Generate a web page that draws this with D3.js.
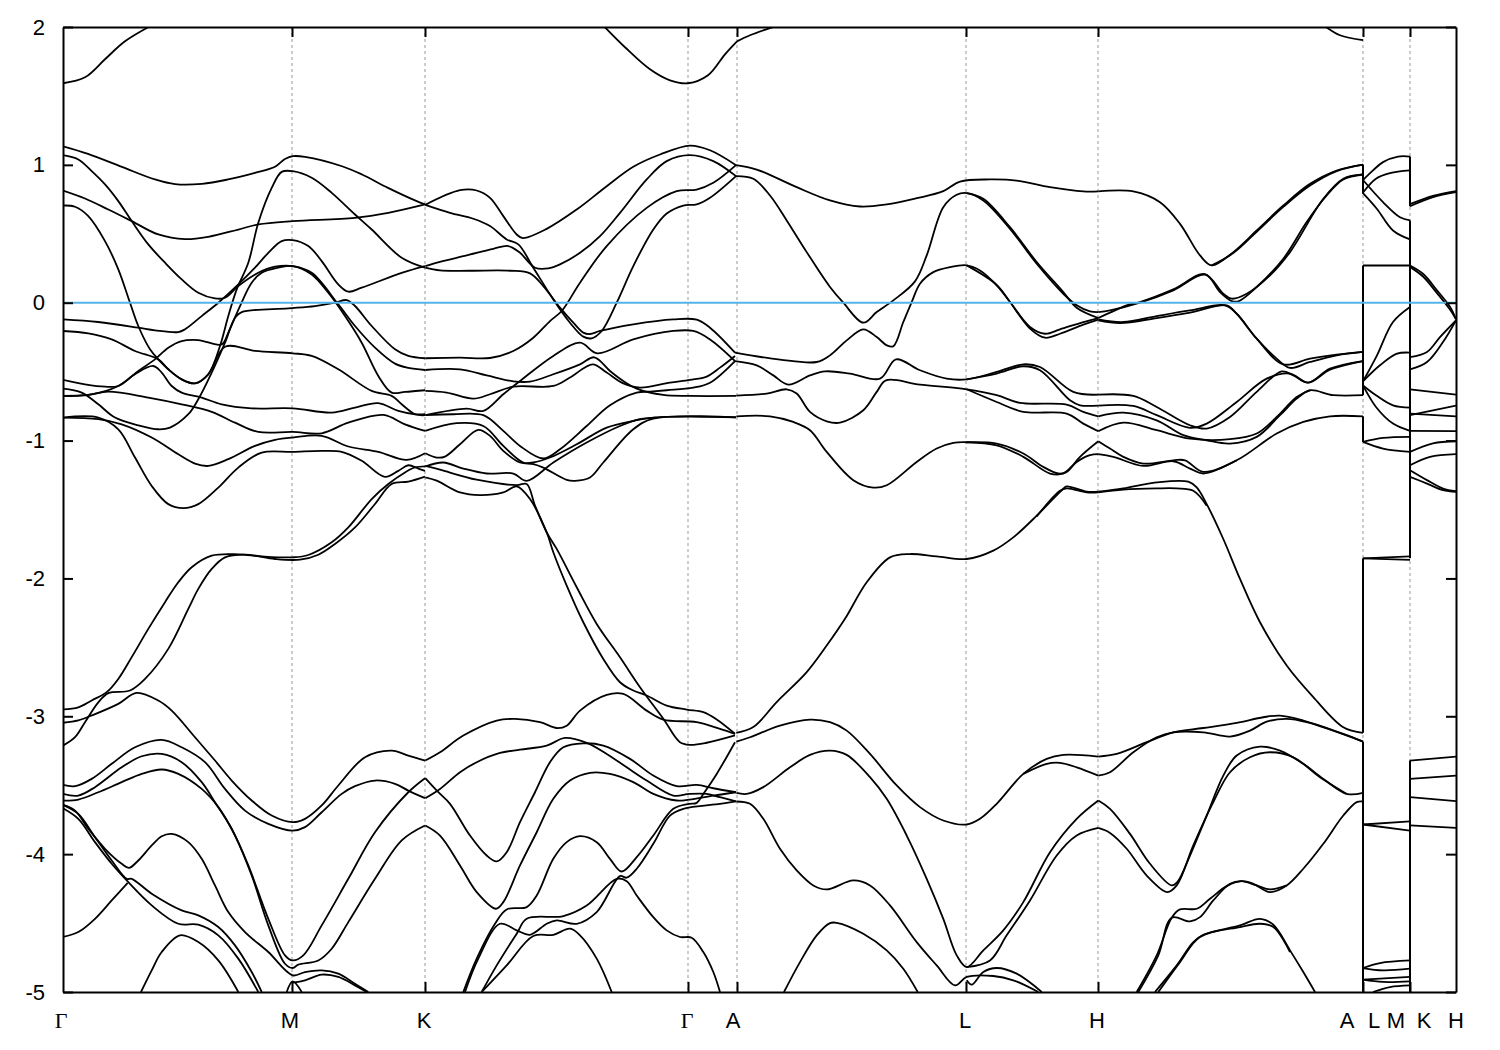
<!DOCTYPE html>
<html>
<head>
<meta charset="utf-8">
<script src="https://d3js.org/d3.v7.min.js"></script>
<style>
html, body { margin: 0; padding: 0; background: #fff; }
svg text { font-family: "Liberation Sans", Arial, sans-serif; font-size: 22px; fill: #000; }
</style>
</head>
<body>
<div id="chart"></div>
<script>
// high symmetry points on the path, k in path units
const gridK = [2.29, 3.62, 6.25, 6.74, 9.03, 10.35, 13.0, 13.47];
const tickE = [-5, -4, -3, -2, -1, 0, 1, 2];
const labelText = ["Γ", "M", "K", "Γ", "A", "L", "H", "A", "L", "M", "K", "H"];
const labelK = [-0.02, 2.27, 3.61, 6.24, 6.70, 9.02, 10.34, 12.84, 13.11, 13.33, 13.61, 13.93];

// every band piece is [k values, energies in eV]
const bandsGammaK = [
  [[0,.25,.59,.92,1.12,1.39,1.65,1.92,2.12,2.22,2.30,2.42,2.79,2.99,3.25,3.52,3.62],
   [1.135,1.08,.985,.894,.86,.862,.894,.942,.986,1.043,1.063,1.058,.99,.93,.833,.742,.713]],
  [[0,.153,.287,.42,.553,.687,.853,1.02,1.187,1.353,1.52,1.62,1.753,1.953,2.12,2.297,2.487,2.753,2.92,3.12,3.32,3.453,3.62],
   [1.07,1.039,.954,.858,.737,.592,.423,.29,.169,.072,.031,.036,.121,.217,.261,.266,.217,-.012,-.169,-.326,-.442,-.473,-.488]],
  [[0,.22,.453,.687,.953,1.22,1.453,1.753,1.953,2.297,2.92,3.253,3.62],
   [.814,.756,.676,.592,.495,.461,.478,.531,.568,.592,.616,.652,.713]],
  [[0,.12,.253,.42,.553,.67,.753,.87,.953,1.053,1.187,1.32,1.453,1.57,1.653,1.737,1.853,1.953,2.087,2.187,2.297,2.487,2.687,2.92,3.087,3.387,3.62],
   [.705,.696,.628,.447,.242,0,-.169,-.338,-.411,-.483,-.556,-.585,-.519,-.314,-.097,.097,.29,.58,.833,.949,.954,.906,.797,.64,.531,.326,.254]],
  [[0,.253,.487,.72,.953,1.053,1.187,1.32,1.453,1.62,1.92,2.297,2.487,2.753,3.087,3.287,3.387,3.52,3.62],
   [-.205,-.222,-.266,-.35,-.411,-.483,-.556,-.585,-.519,-.319,-.35,-.367,-.386,-.483,-.64,-.676,-.737,-.809,-.816]],
  [[0,.353,.753,.92,1.153,1.22,1.387,1.553,1.753,1.92,2.053,2.187,2.297,2.453,2.587,2.753,2.853,2.987,3.387,3.62],
   [-.121,-.14,-.181,-.2,-.213,-.193,-.097,0,.133,.254,.362,.447,.454,.411,.302,.133,.08,.109,.217,.266]],
  [[0,.22,.42,.553,.72,.903,.987,1.087,1.187,1.387,1.587,1.887,2.297,2.687,2.92,3.153,3.353,3.52,3.62],
   [-.56,-.592,-.609,-.604,-.519,-.459,-.507,-.604,-.652,-.688,-.737,-.766,-.766,-.797,-.761,-.729,-.785,-.809,-.809]],
  [[0,.253,.553,.753,.92,1.053,1.187,1.353,1.587,1.653,1.77,1.887,1.987,2.153,2.297,2.487,2.653,2.82,2.987,3.153,3.287,3.42,3.62],
   [-.676,-.669,-.604,-.495,-.411,-.326,-.278,-.271,-.302,-.217,-.024,.145,.217,.254,.266,.205,.072,-.097,-.29,-.531,-.652,-.647,-.635]],
  [[0,.187,.353,.52,.753,.953,1.07,1.253,1.353,1.487,1.62,1.72,1.787,2.253,2.52,2.72,2.837,2.92,3.087,3.32,3.453,3.62],
   [-.623,-.652,-.737,-.833,-.889,-.918,-.906,-.809,-.7,-.507,-.29,-.109,-.068,-.041,-.024,0,.019,-.024,-.169,-.338,-.386,-.403]],
  [[0,.353,.553,.72,.887,1.053,1.203,1.353,1.553,1.753,1.987,2.297,2.587,2.787,2.987,3.22,3.353,3.453,3.553,3.62],
   [-.833,-.833,-.918,-1.123,-1.329,-1.461,-1.49,-1.461,-1.341,-1.196,-1.087,-1.082,-1.075,-1.082,-1.147,-1.263,-1.22,-1.179,-1.203,-1.22]],
  [[0,.353,.587,.887,1.153,1.32,1.453,1.653,1.92,2.12,2.297,2.587,2.853,3.153,3.437,3.62],
   [-.833,-.845,-.882,-.978,-1.099,-1.167,-1.184,-1.135,-1.039,-.995,-.978,-.966,-1.043,-1.082,-1.14,-1.092]],
  [[0,.253,.453,.853,1.187,1.487,1.72,1.953,2.297,2.587,2.853,3.203,3.42,3.62],
   [-.676,-.669,-.645,-.688,-.737,-.792,-.87,-.937,-.937,-.947,-.87,-.814,-.882,-.93]],
  [[0,.153,.287,.437,.553,.687,.853,1.02,1.153,1.287,1.487,1.753,1.987,2.297,2.453,2.687,2.853,3.087,3.253,3.42,3.52,3.62],
   [-2.95,-2.935,-2.885,-2.825,-2.729,-2.571,-2.366,-2.172,-2.028,-1.919,-1.835,-1.825,-1.84,-1.847,-1.83,-1.738,-1.63,-1.424,-1.315,-1.231,-1.195,-1.187]],
  [[0,.12,.22,.353,.453,.67,.82,1.053,1.253,1.353,1.487,1.62,1.82,2.12,2.37,2.553,2.72,2.92,3.12,3.287,3.453,3.62],
   [-3.213,-3.152,-3.043,-2.899,-2.832,-2.813,-2.729,-2.511,-2.221,-2.076,-1.931,-1.847,-1.827,-1.859,-1.864,-1.828,-1.75,-1.63,-1.46,-1.315,-1.298,-1.262]],
  [[0,.153,.287,.553,.737,.953,1.087,1.32,1.52,1.687,1.887,2.087,2.297,2.42,2.587,2.753,3.02,3.287,3.453,3.62],
   [-3.047,-3.03,-2.994,-2.91,-2.83,-2.886,-2.959,-3.152,-3.321,-3.466,-3.611,-3.72,-3.768,-3.744,-3.647,-3.502,-3.297,-3.249,-3.285,-3.321]],
  [[0,.12,.287,.487,.72,.987,1.187,1.42,1.62,1.82,2.053,2.297,2.42,2.587,2.787,2.92,3.12,3.32,3.453,3.62],
   [-3.498,-3.507,-3.454,-3.345,-3.225,-3.171,-3.225,-3.333,-3.527,-3.684,-3.78,-3.829,-3.804,-3.696,-3.563,-3.507,-3.466,-3.49,-3.539,-3.594]],
  [[0,.153,.32,.587,.787,.987,1.187,1.387,1.52,1.687,1.853,2.053,2.22,2.297,2.403,2.587,2.853,3.12,3.453,3.62],
   [-3.563,-3.575,-3.514,-3.37,-3.29,-3.273,-3.333,-3.478,-3.623,-3.816,-4.082,-4.469,-4.734,-4.771,-4.734,-4.517,-4.179,-3.841,-3.551,-3.449]],
  [[0,.153,.353,.587,.787,.987,1.153,1.387,1.553,1.72,1.887,2.053,2.22,2.297,2.353,2.553,2.687,2.853,3.12,3.387,3.62],
   [-3.611,-3.604,-3.551,-3.478,-3.418,-3.386,-3.418,-3.527,-3.659,-3.865,-4.155,-4.517,-4.795,-4.826,-4.802,-4.771,-4.686,-4.493,-4.179,-3.9,-3.792]],
  [[0,.12,.253,.42,.587,.66,.753,.887,.987,1.087,1.253,1.387,1.52,1.653,1.82,2.053,2.297,2.42,2.587,2.753,2.92,3.053],
   [-3.643,-3.684,-3.816,-3.961,-4.07,-4.099,-4.046,-3.937,-3.87,-3.853,-3.913,-4.034,-4.227,-4.42,-4.565,-4.71,-4.879,-4.855,-4.843,-4.867,-4.94,-5.0]],
  [[0,.153,.32,.487,.637,.687,.887,1.187,1.353,1.553,1.72,1.887,1.987],
   [-3.643,-3.708,-3.877,-4.046,-4.179,-4.179,-4.287,-4.408,-4.444,-4.529,-4.662,-4.855,-5.0]],
  [[0,.153,.32,.487,.637,.887,1.153,1.353,1.553,1.753,1.953],
   [-3.667,-3.744,-3.913,-4.07,-4.191,-4.372,-4.505,-4.512,-4.589,-4.758,-5.0]],
  [[0,.153,.32,.487,.647],
   [-4.601,-4.565,-4.469,-4.336,-4.208]],
  [[.78,.887,.987,1.17,1.353,1.553,1.753],
   [-5.0,-4.843,-4.71,-4.589,-4.638,-4.771,-5.0]],
  [[2.237,2.297,2.387],
   [-5.0,-4.923,-5.0]],
  [[2.297,2.42,2.587,2.753,2.92,3.037],
   [-4.932,-4.915,-4.874,-4.891,-4.952,-5.0]],
  [[0,.22,.42,.62,.87],
   [1.592,1.635,1.766,1.896,2.005]]
];

const bandsKA = [
  [[3.623,3.97,4.137,4.27,4.403,4.537,4.597,4.837,5.137,5.437,5.703,5.97,6.27,6.47,6.73],
   [.71,.816,.814,.761,.628,.495,.469,.536,.676,.845,.986,1.075,1.14,1.106,.998]],
  [[3.623,3.87,4.103,4.27,4.437,4.553,4.703,4.903,5.07,5.203,5.287,5.387,5.537,5.703,5.903,6.037,6.203,6.337,6.47,6.73],
   [.71,.652,.609,.556,.459,.423,.254,.024,-.145,-.246,-.258,-.205,0,.266,.531,.647,.705,.713,.761,.918]],
  [[3.623,3.77,4.037,4.303,4.453,4.57,4.72,4.853,4.97,5.17,5.37,5.57,5.837,6.037,6.27,6.503,6.73],
   [.266,.297,.343,.391,.411,.362,.254,.249,.278,.362,.483,.652,.894,1.027,1.07,1.027,.918]],
  [[3.623,3.77,4.07,4.47,4.67,4.803,4.97,5.103,5.203,5.27,5.37,5.703,6.103,6.337,6.47,6.72],
   [.254,.234,.232,.232,.213,.121,-.036,-.145,-.217,-.227,-.205,-.157,-.121,-.123,-.181,-.362]],
  [[3.623,3.97,4.27,4.503,4.703,4.87,4.987,5.17,5.437,5.837,6.137,6.337,6.503,6.73],
   [-.403,-.399,-.401,-.35,-.254,-.133,-.06,.145,.411,.688,.809,.821,.87,.998]],
  [[3.623,3.97,4.237,4.503,4.67,4.903,5.17,5.313,5.47,5.603,5.737,6.003,6.27,6.73],
   [-.488,-.483,-.527,-.57,-.572,-.519,-.447,-.396,-.495,-.568,-.623,-.669,-.676,-.676]],
  [[3.623,3.837,4.103,4.27,4.503,4.903,5.07,5.297,5.437,5.603,5.77,6.07,6.27,6.437,6.57,6.72],
   [-.64,-.652,-.696,-.664,-.609,-.604,-.543,-.447,-.507,-.585,-.616,-.58,-.56,-.536,-.471,-.386]],
  [[3.623,4.037,4.203,4.403,4.57,4.903,5.17,5.343,5.703,6.103,6.303,6.47,6.72],
   [-.816,-.768,-.785,-.664,-.568,-.386,-.29,-.367,-.266,-.205,-.205,-.266,-.423]],
  [[3.623,3.937,4.203,4.403,4.603,4.703,4.87,5.137,5.437,5.703,5.903,6.73],
   [-.93,-.874,-.894,-1.039,-1.159,-1.159,-1.123,-1.027,-.906,-.857,-.833,-.831]],
  [[3.623,3.903,4.203,4.403,4.57,4.803,4.97,5.237,5.47,5.737,5.87,6.037,6.303,6.47,6.72],
   [-.816,-.809,-.816,-.93,-1.039,-1.13,-1.063,-.894,-.744,-.652,-.645,-.635,-.616,-.58,-.423]],
  [[3.623,3.737,3.82,3.97,4.153,4.27,4.403,4.57,4.703,4.803,5.037,5.12,5.27,5.403,5.703,5.903,6.73],
   [-1.092,-1.123,-1.116,-1.027,-.923,-.966,-1.075,-1.159,-1.171,-1.196,-1.285,-1.292,-1.268,-1.159,-.918,-.841,-.831]],
  [[3.623,3.803,4.003,4.237,4.503,4.637,4.903,5.237,5.57,5.77,5.937],
   [-1.188,-1.159,-1.203,-1.239,-1.239,-1.292,-1.159,-1.014,-.894,-.845,-.833]],
  [[3.623,3.737,3.97,4.17,4.403,4.537,4.67,4.837,4.903,5.037,5.203,5.403,5.57,5.703,5.837,6.037,6.237,6.403,6.537,6.72],
   [-1.267,-1.291,-1.376,-1.395,-1.376,-1.332,-1.424,-1.666,-1.81,-2.052,-2.318,-2.584,-2.753,-2.813,-2.849,-2.922,-2.951,-2.97,-3.023,-3.127]],
  [[3.623,3.77,4.137,4.537,4.637,4.72,4.837,4.937,5.137,5.337,5.57,5.77,6.003,6.17,6.27,6.437,6.72],
   [-1.183,-1.211,-1.284,-1.323,-1.315,-1.472,-1.666,-1.786,-2.064,-2.33,-2.572,-2.789,-3.018,-3.188,-3.207,-3.192,-3.139]],
  [[3.623,3.77,4.003,4.337,4.52,4.77,4.937,5.037,5.17,5.437,5.603,5.837,6.003,6.337,6.57,6.72],
   [-3.321,-3.261,-3.14,-3.031,-3.019,-3.043,-3.085,-3.068,-2.959,-2.845,-2.838,-2.959,-3.024,-3.043,-3.092,-3.128]],
  [[3.623,3.77,3.97,4.137,4.37,4.57,4.837,5.02,5.237,5.437,5.637,5.837,6.103,6.263,6.437,6.57,6.73],
   [-3.594,-3.527,-3.406,-3.333,-3.266,-3.242,-3.213,-3.157,-3.193,-3.273,-3.37,-3.466,-3.575,-3.563,-3.563,-3.587,-3.618]],
  [[3.623,3.753,3.87,4.07,4.237,4.337,4.437,4.57,4.72,4.87,5.003,5.203,5.403,5.67,5.903,6.137,6.337,6.503,6.73],
   [-3.449,-3.551,-3.635,-3.865,-4.01,-4.053,-3.986,-3.768,-3.551,-3.333,-3.225,-3.196,-3.213,-3.309,-3.43,-3.507,-3.498,-3.522,-3.551]],
  [[3.623,3.77,3.97,4.137,4.33,4.403,4.57,4.737,4.903,5.07,5.27,5.47,5.703,5.903,6.137,6.263,6.503,6.73],
   [-3.792,-3.865,-4.082,-4.275,-4.396,-4.348,-4.082,-3.841,-3.599,-3.466,-3.41,-3.418,-3.478,-3.563,-3.611,-3.604,-3.575,-3.551]],
  [[4.003,4.137,4.32,4.437,4.637,4.737,4.903,5.037,5.17,5.337,5.47,5.587,5.737,5.903,6.103,6.263,6.337,6.403,6.537,6.72],
   [-5.0,-4.758,-4.505,-4.401,-4.384,-4.3,-4.034,-3.913,-3.87,-3.913,-4.034,-4.126,-4.022,-3.865,-3.671,-3.635,-3.628,-3.563,-3.418,-3.188]],
  [[4.02,4.153,4.37,4.537,4.67,4.837,4.937,5.137,5.337,5.57,5.637,5.737,5.903,6.07,6.203,6.57,6.73],
   [-5.0,-4.758,-4.505,-4.553,-4.585,-4.505,-4.481,-4.505,-4.42,-4.159,-4.171,-4.106,-3.925,-3.72,-3.671,-3.635,-3.618]],
  [[4.187,4.337,4.537,4.637,5.003,5.237,5.537,5.637,5.737,5.903,6.037,6.17,6.287,6.403,6.503,6.57],
   [-5.0,-4.807,-4.577,-4.469,-4.449,-4.372,-4.179,-4.196,-4.3,-4.457,-4.553,-4.601,-4.606,-4.71,-4.855,-5.0]],
  [[4.187,4.437,4.703,4.903,5.07,5.17,5.337,5.487],
   [-5.0,-4.807,-4.594,-4.585,-4.541,-4.589,-4.758,-5.0]],
  [[5.41,5.62,5.87,6.07,6.25,6.45,6.62,6.74],
   [2.005,1.853,1.693,1.613,1.592,1.65,1.802,1.896]]
];

const bandsAH = [
  [[6.73,6.937,7.337,7.67,7.97,8.237,8.537,8.803,8.97,9.27,9.537,9.87,10.203,10.353],
   [.998,.966,.838,.742,.698,.713,.758,.809,.879,.894,.886,.838,.807,.807]],
  [[6.73,6.903,7.07,7.237,7.437,7.67,7.803,8.003,8.137,8.303,8.52,8.637,8.803,8.937,9.037,9.203,9.47,9.737,10.003,10.137,10.27,10.353],
   [.918,.899,.778,.597,.367,.114,0,-.145,-.068,.017,.155,.343,.693,.783,.795,.742,.536,.283,.065,-.019,-.063,-.068]],
  [[9.037,9.203,9.47,9.737,10.003,10.137,10.353],
   [.795,.754,.548,.295,.077,-.036,-.111]],
  [[6.72,7.17,7.537,7.67,7.837,8.003,8.137,8.237,8.303,8.403,8.487,8.57,8.703,8.87,9.037,9.17,9.337,9.47,9.67,9.82,9.97,10.203,10.353],
   [-.362,-.413,-.43,-.382,-.273,-.193,-.249,-.309,-.316,-.14,.005,.138,.222,.258,.271,.234,.126,.005,-.188,-.254,-.225,-.159,-.123]],
  [[9.037,9.337,9.47,9.67,9.82,9.97,10.203,10.353],
   [.271,.13,.005,-.176,-.225,-.193,-.14,-.111]],
  [[6.72,6.937,7.103,7.253,7.47,7.62,7.87,8.17,8.33,8.57,8.837,9.037,9.337,9.603,9.77,10.103,10.353],
   [-.423,-.454,-.527,-.594,-.527,-.498,-.514,-.551,-.411,-.49,-.551,-.556,-.502,-.447,-.466,-.647,-.667]],
  [[9.037,9.337,9.603,9.77,10.07,10.17,10.353],
   [-.556,-.514,-.461,-.49,-.708,-.744,-.746]],
  [[6.733,7.037,7.237,7.337,7.47,7.637,7.77,8.003,8.137,8.23,8.57,9.037,9.337,9.57,10.037,10.203,10.353],
   [-.674,-.659,-.628,-.659,-.792,-.86,-.87,-.78,-.647,-.563,-.594,-.628,-.671,-.727,-.739,-.792,-.824]],
  [[9.037,9.337,9.603,10.037,10.203,10.353],
   [-.628,-.72,-.792,-.804,-.877,-.932]],
  [[6.733,7.07,7.303,7.47,7.637,7.903,8.103,8.237,8.537,8.737,8.903,9.037,9.337,9.603,9.803,9.953,10.037,10.17,10.353],
   [-.824,-.824,-.865,-.925,-1.082,-1.287,-1.341,-1.324,-1.155,-1.058,-1.017,-1.012,-1.022,-1.094,-1.191,-1.239,-1.227,-1.118,-1.005]],
  [[9.037,9.337,9.603,9.87,10.003,10.137,10.27,10.353],
   [-1.012,-1.034,-1.118,-1.239,-1.239,-1.155,-1.106,-1.099]],
  [[6.733,6.903,7.137,7.437,7.637,7.82,8.037,8.27,8.47,8.737,9.037,9.303,9.503,9.737,10.0,10.037,10.237,10.353],
   [-3.12,-3.078,-2.897,-2.68,-2.487,-2.293,-2.028,-1.847,-1.823,-1.84,-1.859,-1.798,-1.702,-1.545,-1.351,-1.332,-1.371,-1.371]],
  [[9.737,9.97,10.037,10.237,10.353],
   [-1.55,-1.364,-1.347,-1.376,-1.376]],
  [[6.733,6.87,7.17,7.47,7.67,7.837,8.07,8.337,8.57,8.803,9.037,9.17,9.337,9.603,9.837,10.003,10.353],
   [-3.184,-3.152,-3.068,-3.024,-3.043,-3.104,-3.273,-3.502,-3.659,-3.756,-3.785,-3.744,-3.635,-3.418,-3.309,-3.28,-3.292]],
  [[9.603,9.837,9.97,10.137,10.353],
   [-3.418,-3.345,-3.338,-3.37,-3.43]],
  [[6.733,6.837,7.003,7.27,7.47,7.67,7.837,8.07,8.237,8.437,8.637,8.803,8.937,9.037,9.203,9.403,9.603,9.87,10.137,10.353],
   [-3.556,-3.563,-3.514,-3.37,-3.28,-3.249,-3.28,-3.442,-3.599,-3.865,-4.179,-4.469,-4.734,-4.819,-4.698,-4.553,-4.348,-3.986,-3.744,-3.611]],
  [[6.733,6.87,7.003,7.17,7.337,7.503,7.637,7.903,8.07,8.27,8.537,8.737,8.92,9.037,9.303,9.503,9.753],
   [-3.618,-3.635,-3.744,-3.961,-4.118,-4.227,-4.256,-4.191,-4.227,-4.372,-4.638,-4.807,-4.952,-4.891,-4.884,-4.915,-5.0]],
  [[9.037,9.27,9.437,9.67,9.937,10.137,10.353],
   [-4.819,-4.771,-4.589,-4.336,-4.01,-3.865,-3.81]],
  [[7.21,7.37,7.537,7.67,7.737,8.003,8.237,8.403,8.547],
   [-5.0,-4.783,-4.589,-4.5,-4.498,-4.577,-4.698,-4.831,-5.0]],
  [[9.037,9.087,9.203,9.337,9.537,9.787],
   [-4.915,-4.947,-4.855,-4.826,-4.867,-5.0]],
  [[6.74,6.87,7.12],
   [1.896,1.94,2.005]]
];

const bandsHA = [
  [[10.353,10.703,10.97,11.17,11.37,11.487,11.703,11.937,12.203,12.47,12.737,13.0],
   [.807,.807,.729,.572,.343,.271,.367,.524,.705,.862,.959,1.002]],
  [[11.487,11.703,11.937,12.203,12.47,12.737,13.0],
   [.271,.36,.515,.695,.85,.955,1.002]],
  [[10.353,10.47,10.77,11.103,11.42,11.603,11.687,11.837,12.07,12.27,12.603,12.803,13.0],
   [-.068,-.056,0,.089,.203,.065,.029,.065,.198,.367,.754,.899,.93]],
  [[10.353,10.47,10.637,10.77,11.103,11.42,11.57,11.687,11.753,11.937,12.203,12.437,12.637,12.803,13.0],
   [-.111,-.072,-.019,.005,.097,.208,.077,.012,.01,.114,.319,.585,.778,.894,.93]],
  [[10.353,10.57,10.937,11.27,11.637,11.737,11.937,12.203,12.47,12.737,13.0],
   [-.128,-.147,-.111,-.072,-.019,-.08,-.261,-.447,-.406,-.377,-.357]],
  [[10.353,10.603,10.937,11.27,11.62,11.737,11.937,12.137,12.27,12.47,12.737,13.0],
   [-.121,-.14,-.097,-.056,-.019,-.08,-.261,-.406,-.473,-.43,-.382,-.357]],
  [[10.353,10.703,10.937,11.27,11.437,11.67,11.937,12.187,12.303,12.453,12.67,13.0],
   [-.667,-.676,-.756,-.889,-.913,-.829,-.647,-.498,-.527,-.58,-.478,-.423]],
  [[10.353,10.703,10.937,11.27,11.437,11.737,12.037,12.27,12.453,12.67,13.0],
   [-.746,-.749,-.816,-.908,-.877,-.72,-.551,-.514,-.58,-.486,-.423]],
  [[10.353,10.603,10.937,11.203,11.437,11.67,11.937,12.17,12.337,12.47,12.703,13.0],
   [-.824,-.797,-.853,-.961,-.998,-1.022,-.973,-.816,-.696,-.635,-.671,-.671]],
  [[10.353,10.603,10.937,11.27,11.67,11.937,12.137,12.337,12.47],
   [-.932,-.87,-.925,-.986,-.99,-.949,-.829,-.684,-.635]],
  [[10.353,10.47,10.603,10.803,11.103,11.22,11.403,11.737,12.137,12.403,12.67,13.0],
   [-1.005,-1.058,-1.118,-1.167,-1.143,-1.143,-1.227,-1.143,-.949,-.865,-.824,-.824]],
  [[10.353,10.503,10.803,11.103,11.27,11.403,11.737],
   [-1.099,-1.118,-1.184,-1.15,-1.203,-1.239,-1.143]],
  [[10.353,10.603,10.937,11.253,11.337,11.437,11.603,11.77,11.97,12.237,12.503,12.803,13.0],
   [-1.371,-1.347,-1.303,-1.298,-1.34,-1.461,-1.714,-2.004,-2.318,-2.632,-2.861,-3.079,-3.12]],
  [[10.353,10.603,10.937,11.137,11.303,11.437],
   [-1.376,-1.356,-1.347,-1.347,-1.364,-1.472]],
  [[10.353,10.537,10.837,11.103,11.403,11.737,12.003,12.17,12.403,12.803,13.0],
   [-3.292,-3.273,-3.188,-3.116,-3.085,-3.048,-3.007,-2.995,-3.031,-3.128,-3.184]],
  [[10.353,10.47,10.703,10.937,11.103,11.403,11.67,11.87,12.037,12.237,12.437,13.0],
   [-3.43,-3.406,-3.261,-3.152,-3.116,-3.116,-3.147,-3.104,-3.039,-3.019,-3.043,-3.184]],
  [[10.353,10.47,10.67,10.87,11.087,11.143,11.27,11.437,11.603,11.737,11.97,12.17,12.403,12.603,12.837,13.0],
   [-3.611,-3.671,-3.853,-4.07,-4.227,-4.203,-4.01,-3.72,-3.43,-3.285,-3.22,-3.249,-3.345,-3.454,-3.563,-3.556]],
  [[10.353,10.47,10.637,10.837,11.043,11.137,11.303,11.503,11.67,11.87,12.07,12.303,12.57,12.837],
   [-3.81,-3.846,-3.961,-4.155,-4.275,-4.227,-3.937,-3.623,-3.406,-3.297,-3.261,-3.297,-3.442,-3.563]],
  [[10.737,10.937,11.087,11.17,11.337,11.47,11.637,11.787,11.903,12.07,12.237,12.403,12.603,12.803,12.937,13.0],
   [-5.0,-4.734,-4.461,-4.401,-4.396,-4.324,-4.232,-4.196,-4.215,-4.275,-4.227,-4.106,-3.925,-3.72,-3.623,-3.618]],
  [[10.753,10.953,11.087,11.27,11.37,11.503,11.67,11.787,11.937,12.07,12.237],
   [-5.0,-4.734,-4.461,-4.488,-4.457,-4.336,-4.215,-4.196,-4.227,-4.256,-4.227]],
  [[10.92,11.137,11.303,11.403,11.77,11.97,12.103,12.27,12.403,12.52],
   [-5.0,-4.807,-4.638,-4.585,-4.517,-4.469,-4.512,-4.698,-4.855,-5.0]],
  [[10.953,11.17,11.37,11.77,11.97,12.103,12.27],
   [-5.0,-4.783,-4.601,-4.529,-4.505,-4.529,-4.71]],
  [[12.62,12.77,13.0],
   [2.005,1.94,1.904]]
];

const bandsLM = [
  [[13.0,13.1,13.2,13.35,13.47], [.89,.96,1.02,1.06,1.06]],
  [[13.0,13.13,13.27,13.47], [.8,.9,.94,.96]],
  [[13.0,13.2,13.37,13.47], [.89,.73,.62,.597]],
  [[13.0,13.14,13.3,13.47], [.795,.68,.524,.459]],
  [[13.0,13.47], [.27,.27]],
  [[13.0,13.14,13.3,13.47], [-.57,-.382,-.14,-.031]],
  [[13.0,13.17,13.34,13.47], [-.57,-.454,-.37,-.362]],
  [[13.0,13.13,13.3,13.47], [-.6,-.671,-.744,-.761]],
  [[13.0,13.13,13.3,13.47], [-.6,-.756,-.877,-.93]],
  [[13.0,13.2,13.47], [-1.01,-.981,-.973]],
  [[13.0,13.2,13.47], [-1.01,-1.058,-1.082]],
  [[13.0,13.47], [-1.854,-1.84]],
  [[13.0,13.47], [-1.854,-1.866]],
  [[13.0,13.47], [-3.785,-3.763]],
  [[13.0,13.47], [-3.785,-3.829]],
  [[13.0,13.17,13.47], [-4.826,-4.79,-4.771]],
  [[13.0,13.2,13.47], [-4.826,-4.843,-4.831]],
  [[13.0,13.47], [-4.91,-4.89]],
  [[13.0,13.2,13.47], [-4.91,-4.927,-4.923]],
  [[13.1,13.27,13.47], [-5.0,-4.964,-4.952]]
];

const bandsKH = [
  [[13.47,13.7,13.93], [.70,.766,.802]],
  [[13.47,13.7,13.93], [.715,.775,.81]],
  [[13.47,13.6,13.74,13.87,13.93], [.27,.21,.09,-.03,-.12]],
  [[13.47,13.6,13.74,13.87,13.93], [.26,.19,.07,-.05,-.12]],
  [[13.47,13.64,13.77,13.93], [-.394,-.357,-.249,-.128]],
  [[13.47,13.64,13.8,13.93], [-.483,-.43,-.285,-.128]],
  [[13.47,13.93], [-.628,-.667]],
  [[13.47,13.93], [-.816,-.746]],
  [[13.47,13.93], [-.804,-.824]],
  [[13.47,13.93], [-.93,-.932]],
  [[13.47,13.7,13.93], [-1.082,-1.02,-1.005]],
  [[13.47,13.67,13.93], [-1.179,-1.118,-1.099]],
  [[13.47,13.64,13.8,13.93], [-1.215,-1.287,-1.348,-1.367]],
  [[13.47,13.64,13.8,13.93], [-1.263,-1.312,-1.36,-1.372]],
  [[13.47,13.93], [-3.321,-3.292]],
  [[13.47,13.93], [-3.454,-3.43]],
  [[13.47,13.93], [-3.587,-3.616]],
  [[13.47,13.93], [-3.792,-3.81]]
];

// vertical retrace lines where the path jumps: [k, from E, to E]
const jumps = [
  [13.0, 1.002, .79], [13.0, .27, -.67], [13.0, -.824, -1.01], [13.0, -1.854, -3.12], [13.0, -3.184, -5],
  [13.47, 1.06, .70], [13.47, .597, -1.854], [13.47, -3.321, -5]
];

//CHART INIT
const margin = {top: 27, right: 44, bottom: 58, left: 63};
const width = 1500 - margin.left - margin.right;
const height = 1050 - margin.top - margin.bottom;

const svg = d3.select("#chart")
    .append("svg")
    .attr("width", 1500)
    .attr("height", 1050)
    .style("display", "block");

const g = svg.append("g")
    .attr("transform", "translate(" + margin.left + "," + margin.top + ")");

const x = d3.scaleLinear().domain([0, 13.93]).range([0, width]);
const y = d3.scaleLinear().domain([-5, 2]).range([height, 0]);

g.append("clipPath").attr("id", "plot")
    .append("rect").attr("width", width).attr("height", height);

//GRID
g.selectAll(".grid")
    .data(gridK)
    .enter()
    .append("line")
    .attr("class", "grid")
    .attr("x1", d => x(d))
    .attr("x2", d => x(d))
    .attr("y1", 0)
    .attr("y2", height)
    .attr("stroke", "#999")
    .attr("stroke-width", 1)
    .attr("stroke-dasharray", "3,3");

//BANDS
const line = d3.line()
    .x(d => x(d[0]))
    .y(d => y(d[1]))
    .curve(d3.curveCatmullRom.alpha(0.5));

const allBands = [].concat(bandsGammaK, bandsKA, bandsAH, bandsHA, bandsLM, bandsKH);

const plot = g.append("g").attr("clip-path", "url(#plot)");

plot.selectAll(".band")
    .data(allBands)
    .enter()
    .append("path")
    .attr("class", "band")
    .attr("d", d => line(d3.zip(d[0], d[1])))
    .attr("fill", "none")
    .attr("stroke", "#000")
    .attr("stroke-width", 1.8);

plot.selectAll(".jump")
    .data(jumps)
    .enter()
    .append("line")
    .attr("class", "jump")
    .attr("x1", d => x(d[0]))
    .attr("x2", d => x(d[0]))
    .attr("y1", d => y(d[1]))
    .attr("y2", d => y(d[2]))
    .attr("stroke", "#000")
    .attr("stroke-width", 2);

//FERMI LEVEL
g.append("line")
    .attr("x1", 0)
    .attr("x2", width)
    .attr("y1", y(0))
    .attr("y2", y(0))
    .attr("stroke", "#56b4e9")
    .attr("stroke-width", 2);

//AXES
const tickLen = 10;
function styleAxis(sel){
    sel.select(".domain").attr("stroke", "#000").attr("stroke-width", 2);
    sel.selectAll(".tick line").attr("stroke", "#000").attr("stroke-width", 2);
    sel.attr("font-family", null).attr("font-size", null);
}

g.append("g")
    .call(d3.axisLeft(y).tickValues(tickE).tickFormat(d => String(d)).tickSize(-tickLen).tickSizeOuter(0).tickPadding(18))
    .call(styleAxis);
g.append("g")
    .attr("transform", `translate(${width},0)`)
    .call(d3.axisRight(y).tickValues(tickE).tickFormat("").tickSize(-tickLen).tickSizeOuter(0))
    .call(styleAxis);
g.append("g")
    .attr("transform", `translate(0,${height})`)
    .call(d3.axisBottom(x).tickValues(gridK).tickFormat("").tickSize(-tickLen).tickSizeOuter(0))
    .call(styleAxis);
g.append("g")
    .call(d3.axisTop(x).tickValues(gridK).tickFormat("").tickSize(-tickLen).tickSizeOuter(0))
    .call(styleAxis);

//PATH LABELS
g.selectAll(".k-label")
    .data(labelText)
    .enter()
    .append("text")
    .attr("class", "k-label")
    .attr("x", (d, i) => x(labelK[i]))
    .attr("y", height + 36)
    .attr("text-anchor", "middle")
    .style("font-family", d => d == "Γ" ? "'Liberation Serif', serif" : null)
    .text(d => d);
</script>
</body>
</html>
